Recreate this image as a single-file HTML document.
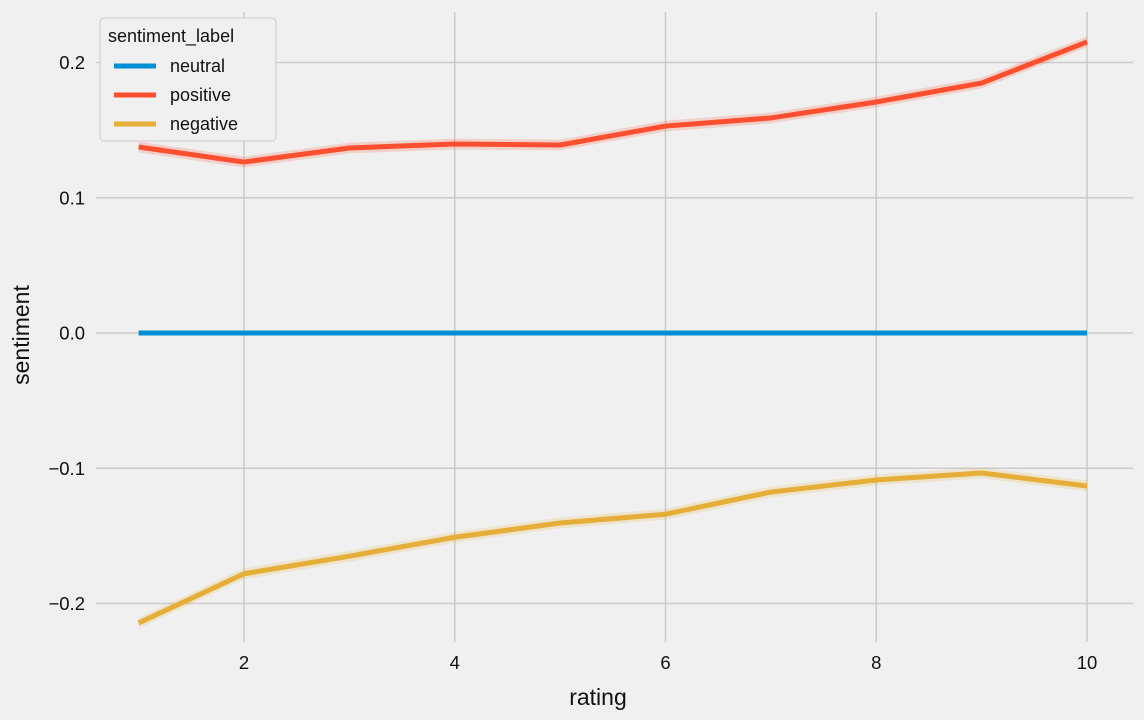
<!DOCTYPE html>
<html><head><meta charset="utf-8"><style>
body{margin:0;background:#f0f0f0;}
svg{display:block;font-family:"Liberation Sans","DejaVu Sans",sans-serif;}
</style></head><body>
<svg id="chart" width="1144" height="720">
<rect width="1144" height="720" fill="#f0f0f0"/>
<g id="grid"></g><g id="series"></g><g id="ticks"></g>
<text x="598" y="705" font-size="23" text-anchor="middle" fill="#111">rating</text>
<text x="29" y="335" font-size="23" text-anchor="middle" fill="#111" transform="rotate(-90 29 335)">sentiment</text>
<g>
<rect x="100" y="18" width="176" height="123" rx="4" fill="#f0f0f0" stroke="#cccccc"/>
<text x="108" y="42" font-size="18" fill="#111">sentiment_label</text>
<g><line x1="114" y1="66" x2="156" y2="66" stroke="#008fd5" stroke-width="5"/><text x="170" y="72" font-size="18" fill="#111">neutral</text></g>
<g><line x1="114" y1="95" x2="156" y2="95" stroke="#fc4f30" stroke-width="5"/><text x="170" y="101" font-size="18" fill="#111">positive</text></g>
<g><line x1="114" y1="124" x2="156" y2="124" stroke="#e5ae38" stroke-width="5"/><text x="170" y="130" font-size="18" fill="#111">negative</text></g>
</g>
</svg>
<script>
const ratings=[1,2,3,4,5,6,7,8,9,10];
const neutral=[0,0,0,0,0,0,0,0,0,0];
const positive=[0.1375,0.1264,0.1368,0.1397,0.139,0.153,0.159,0.1708,0.1848,0.2152];
const negative=[-0.2144,-0.178,-0.165,-0.151,-0.1405,-0.134,-0.1176,-0.1087,-0.1035,-0.1131];
const xTicks=[2,4,6,8,10];
const yTicks=[-0.2,-0.1,0,0.1,0.2];
const yTickLabels=["\u22120.2","\u22120.1","0.0","0.1","0.2"];
const NS="http://www.w3.org/2000/svg";
const xs=v=>244+(v-2)*105.375;
const ys=v=>333-v*1352.5;
function mk(tag,attrs,parent){const e=document.createElementNS(NS,tag);for(const k in attrs)e.setAttribute(k,attrs[k]);parent.appendChild(e);return e;}
const grid=document.getElementById('grid'),ticks=document.getElementById('ticks'),series=document.getElementById('series');
xTicks.forEach(t=>{
 const l=mk('line',{x1:xs(t),x2:xs(t),y1:12,y2:642,stroke:'#cbcbcb','stroke-width':1.5},grid);
 
 
 const tx=mk('text',{x:xs(t),y:669,'font-size':18.5,'text-anchor':'middle',fill:'#111'},ticks);
 tx.textContent=t;
 
 
});
yTicks.forEach((t,i)=>{
 const l=mk('line',{x1:96,x2:1133,y1:ys(t),y2:ys(t),stroke:'#cbcbcb','stroke-width':1.5},grid);
 
 
 const tx=mk('text',{x:85,y:ys(t)+6.5,'font-size':18.5,'text-anchor':'end',fill:'#111'},ticks);
 tx.textContent=yTickLabels[i];
 
 
});
function draw(vals,color,name,ci){
 if(ci>0){
 const up=ratings.map((r,i)=>xs(r)+','+ys(vals[i]+ci)).join(' ');
 const dn=ratings.slice().reverse().map((r,j)=>{const i=ratings.length-1-j;return xs(r)+','+ys(vals[i]-ci);}).join(' ');
 const band=mk('polygon',{points:up+' '+dn,fill:color,opacity:0.2},series);
 
 
 }
 const pl=mk('polyline',{points:ratings.map((r,i)=>xs(r)+','+ys(vals[i])).join(' '),fill:'none',stroke:color,'stroke-width':5,'stroke-linejoin':'round'},series);
 
 
}
draw(neutral,'#008fd5','neutral',0);
draw(positive,'#fc4f30','positive',0.004);
draw(negative,'#e5ae38','negative',0.004);
</script>
</body></html>
